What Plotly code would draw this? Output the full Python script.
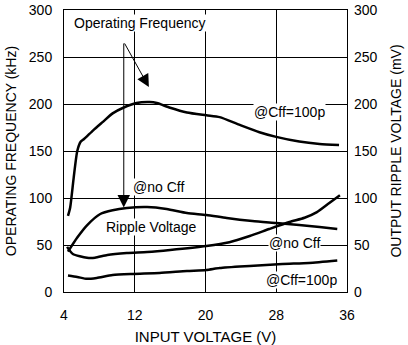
import plotly.graph_objects as go

# Operating frequency @Cff=100p (kHz, left axis)
freq_x = [4.45, 4.7, 5.1, 5.5, 5.9, 6.3, 7.3, 8.4, 9.5, 10.7, 12.2, 13.7, 14.5, 16.0, 17.9, 20.1, 21.6, 23.8, 26.1, 28.0, 30.6, 32.9, 35.1]
freq_y = [81, 90, 122, 150, 160, 163, 172, 181, 190, 196, 201, 202, 201, 196, 191, 188, 186, 178, 170, 165, 160, 157.5, 156.5]

# Curve A (@no Cff, rising to ~90)
a_x = [4.45, 5.5, 6.6, 8.1, 9.5, 11.1, 13.4, 15.6, 17.9, 20.1, 22.4, 25.3, 28.0, 30.6, 32.9, 34.9]
a_y = [43, 58, 71, 83, 87, 89.4, 90.4, 88.3, 84, 82, 78.7, 75.5, 73.4, 71.3, 69.2, 67]

# Curve B (ripple @no Cff)
b_x = [4.35, 5.0, 6.6, 7.5, 8.9, 11.1, 13.4, 16.0, 20.1, 22.7, 25.0, 27.2, 29.5, 31.2, 32.6, 34.0, 35.2]
b_y = [48, 40.4, 36.5, 36.5, 39.4, 41.5, 42.6, 44.7, 48.9, 53, 59.6, 67, 74.5, 79, 85, 94.7, 103]

# Curve C (ripple @Cff=100p)
c_x = [4.45, 5.5, 6.6, 7.7, 9.5, 11.8, 14.8, 17.9, 20.1, 21.6, 25.0, 28.7, 31.7, 34.9]
c_y = [17.5, 16, 14, 15, 18, 19.2, 20.2, 22.3, 23.4, 25.5, 27.7, 29.8, 30.9, 33.5]

x_ticks = [4, 12, 20, 28, 36]
y_ticks = [0, 50, 100, 150, 200, 250, 300]

FONT = "Liberation Sans, Arial, sans-serif"
line = dict(color="black", width=2.5, shape="spline", smoothing=0.6)

fig = go.Figure()
for xs, ys in [(freq_x, freq_y), (a_x, a_y), (b_x, b_y), (c_x, c_y)]:
    fig.add_trace(go.Scatter(x=xs, y=ys, mode="lines", line=line, showlegend=False, hoverinfo="skip"))
# dummy trace for right axis
fig.add_trace(go.Scatter(x=[4], y=[0], yaxis="y2", mode="markers", marker=dict(opacity=0), showlegend=False, hoverinfo="skip"))

axis_common = dict(showline=True, linecolor="black", linewidth=1, mirror=True,
                   showgrid=True, gridcolor="black", gridwidth=1, zeroline=False,
                   automargin=False,
                   ticks="", tickfont=dict(family=FONT, size=14, color="black"))

fig.update_layout(
    width=408, height=345,
    margin=dict(l=64, r=61, t=10, b=53),
    paper_bgcolor="white", plot_bgcolor="white",
    font=dict(family=FONT, size=13, color="black"),
    xaxis=dict(range=[4, 36], tickvals=x_ticks, ticklabelstandoff=10,
               title=dict(text="INPUT VOLTAGE (V)", font=dict(family=FONT, size=15), standoff=10),
               **axis_common),
    yaxis=dict(range=[0, 300], tickvals=y_ticks, ticklabelstandoff=8,
               title=dict(text="OPERATING FREQUENCY (kHz)", font=dict(family=FONT, size=14), standoff=8),
               **axis_common),
    yaxis2=dict(range=[0, 300], tickvals=y_ticks, overlaying="y", side="right",
                showline=False, showgrid=False, zeroline=False, ticks="",
                automargin=False, ticklabelstandoff=6,
                tickfont=dict(family=FONT, size=14, color="black"),
                title=dict(text="OUTPUT RIPPLE VOLTAGE (mV)", font=dict(family=FONT, size=14), standoff=14)),
)

def label(text, x, y):
    fig.add_annotation(x=x, y=y, xref="x", yref="y", text=text, showarrow=False,
                       bgcolor="white", borderpad=0, font=dict(family=FONT, size=14, color="black"))

label("Operating Frequency", 12.6, 286)
label("@Cff=100p", 29.5, 191)
label("@no Cff", 14.7, 112)
label("Ripple Voltage", 13.9, 69)
label("@no Cff", 30.1, 52)
label("@Cff=100p", 30.9, 13)

# arrows
fig.add_annotation(x=10.76, y=90, ax=10.76, ay=266, xref="x", yref="y", axref="x", ayref="y",
                   text="", showarrow=True, arrowhead=2, arrowsize=2.5, arrowwidth=1, arrowcolor="black")
fig.add_annotation(x=13.6, y=218, ax=10.76, ay=266, xref="x", yref="y", axref="x", ayref="y",
                   text="", showarrow=True, arrowhead=2, arrowsize=2.5, arrowwidth=1, arrowcolor="black")

fig.write_html("out.html")
